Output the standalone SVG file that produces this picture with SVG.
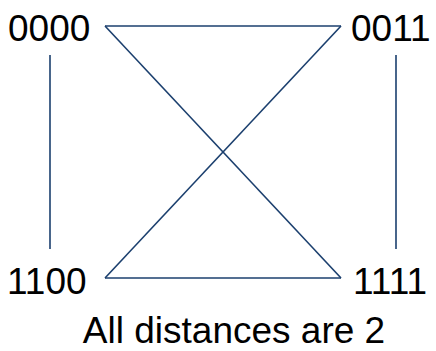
<svg xmlns="http://www.w3.org/2000/svg" width="436" height="351" viewBox="0 0 436 351">
<style>
text{font-family:"Liberation Sans",Arial,sans-serif;font-size:37px;fill:#000}
.c line{stroke:#1b3f6e;stroke-width:1.6;fill:none}
</style>
<rect width="436" height="351" fill="#fff"/>
<g class="c" id="connectors">
<line x1="50" y1="55" x2="50" y2="249"/>
<line x1="396" y1="55" x2="396" y2="249"/>
<line x1="105" y1="26" x2="341" y2="26"/>
<line x1="105" y1="26" x2="341" y2="278"/>
<line x1="341" y1="26" x2="105" y2="278"/>
<line x1="105" y1="278" x2="341" y2="278"/>
</g>
<g id="n0000"><text x="8" y="41">0000</text></g>
<g id="n0011"><text x="351" y="41">0011</text></g>
<g id="n1100"><text x="7" y="294">1100</text></g>
<g id="n1111"><text x="353" y="294">1111</text></g>
<g id="caption"><text x="234" y="343" text-anchor="middle">All distances are 2</text></g>
</svg>
